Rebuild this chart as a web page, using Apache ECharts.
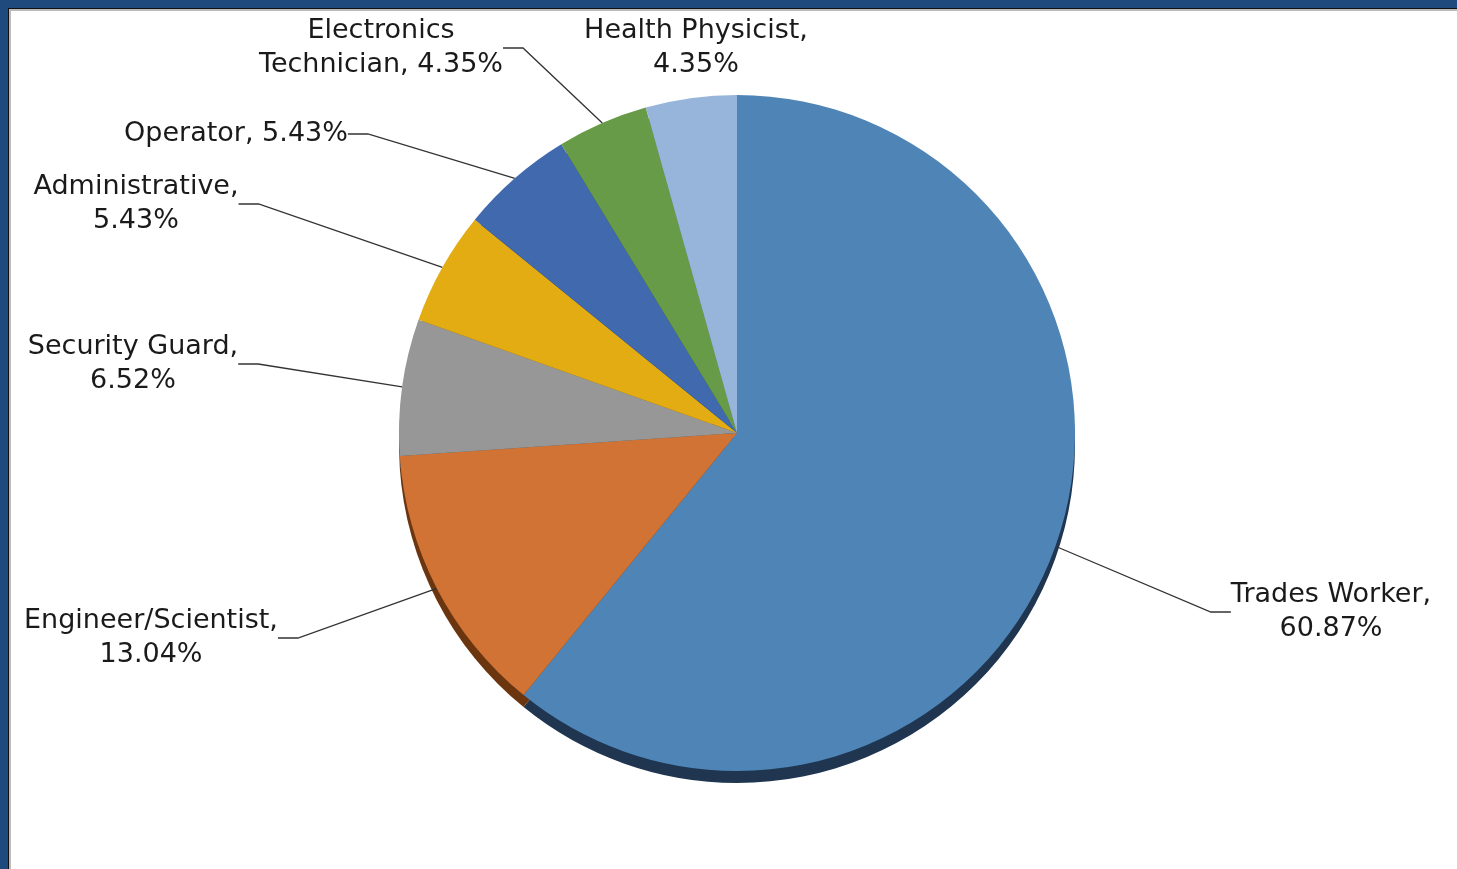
<!DOCTYPE html>
<html>
<head>
<meta charset="utf-8">
<script src="https://cdn.jsdelivr.net/npm/echarts@6/dist/echarts.min.js"></script>
<style>
html,body{margin:0;padding:0;width:1457px;height:869px;overflow:hidden;background:#fff;}
#frame{position:absolute;left:0;top:0;width:1457px;height:869px;background:#1F4A7E;}
#inner{position:absolute;left:8px;top:8px;right:0;bottom:0;background:#fff;border-left:1px solid #111;border-top:1px solid #111;box-shadow:inset 2px 2px 0 #bbb;}
#chart{position:absolute;left:0;top:0;width:1457px;height:869px;}
</style>
</head>
<body>
<div id="frame"><div id="inner"></div></div>
<div id="chart"></div>
<script>
// Data
var categories = ['Trades Worker', 'Engineer/Scientist', 'Security Guard', 'Administrative', 'Operator', 'Electronics\nTechnician', 'Health Physicist'];
var values = [60.87, 13.04, 6.52, 5.43, 5.43, 4.35, 4.35];
var labelSeparators = ['\n', '\n', '\n', '\n', ' ', ' ', '\n'];

// Styles
var colors = ['#4F85B6', '#D07334', '#979797', '#E3AC12', '#4169AE', '#689B47', '#97B5DA'];
var edgeColors = ['#1F3550', '#6B3510', '#555555', '#7A5A05', '#1F3560', '#2F5020', '#5A7090'];
var labelAnchors = [[1331, 612], [151, 638], [133, 364], [136, 204], [236, 134], [381, 48], [696, 48]];

var mainData = categories.map(function (c, i) {
  return {
    name: c, value: values[i],
    itemStyle: { color: colors[i] },
    labelLine: { show: i !== 6 }
  };
});
var edgeData = categories.map(function (c, i) {
  return { name: c, value: values[i], itemStyle: { color: edgeColors[i] } };
});

var chart = echarts.init(document.getElementById('chart'), null, { renderer: 'canvas' });
chart.setOption({
  backgroundColor: 'transparent',
  animation: false,
  series: [
    {
      type: 'pie', silent: true, z: 1,
      center: [737, 445], radius: 338,
      startAngle: 90, clockwise: true,
      label: { show: false }, labelLine: { show: false },
      data: edgeData
    },
    {
      type: 'pie', z: 2,
      center: [737, 433], radius: 338,
      startAngle: 90, clockwise: true,
      itemStyle: { borderWidth: 0 },
      label: {
        show: true,
        fontFamily: '"DejaVu Sans", Verdana, sans-serif',
        fontSize: 27,
        lineHeight: 34,
        color: '#1a1a1a',
        align: 'center',
        formatter: function (p) {
          return p.name + ',' + labelSeparators[p.dataIndex] + p.value.toFixed(2) + '%';
        }
      },
      labelLine: { show: true, length: 30, length2: 20, lineStyle: { color: '#333333', width: 1.3 } },
      labelLayout: function (params) {
        var a = labelAnchors[params.dataIndex];
        return { x: a[0], y: a[1], align: 'center', verticalAlign: 'middle' };
      },
      data: mainData
    }
  ]
});
</script>
</body>
</html>
